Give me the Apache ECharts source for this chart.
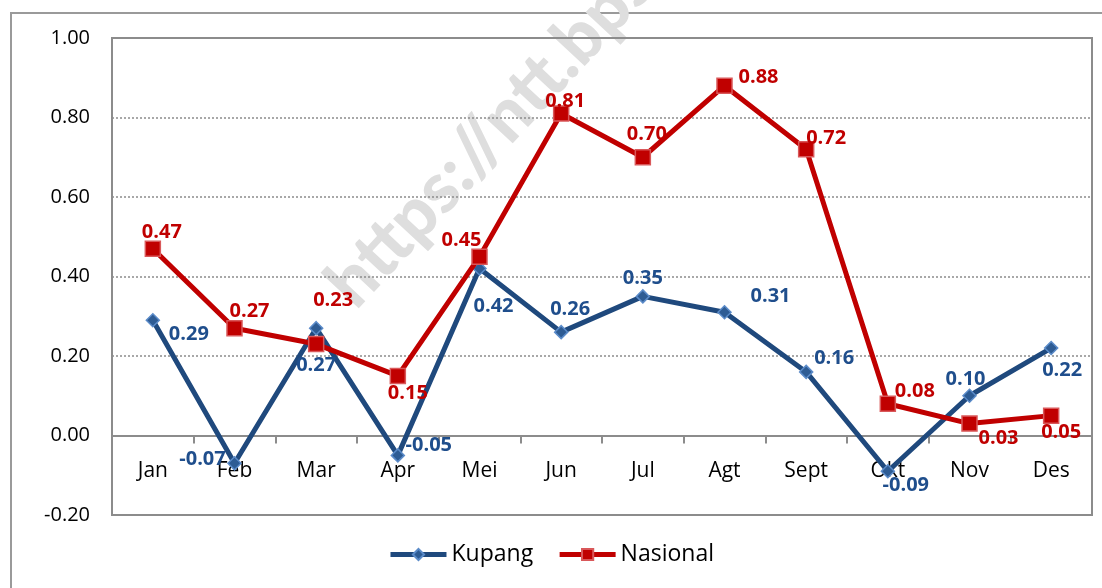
<!DOCTYPE html>
<html>
<head>
<meta charset="utf-8">
<script src="https://cdn.jsdelivr.net/npm/echarts@6/dist/echarts.min.js"></script>
<style>
  html, body { margin: 0; padding: 0; background: #fff; }
  #chart { width: 1102px; height: 588px; }
</style>
</head>
<body>
<div id="chart"></div>
<script>
// data
const months = ['Jan', 'Feb', 'Mar', 'Apr', 'Mei', 'Jun', 'Jul', 'Agt', 'Sept', 'Okt', 'Nov', 'Des'];
const kupang = [0.29, -0.07, 0.27, -0.05, 0.42, 0.26, 0.35, 0.31, 0.16, -0.09, 0.10, 0.22];
const nasional = [0.47, 0.27, 0.23, 0.15, 0.45, 0.81, 0.70, 0.88, 0.72, 0.08, 0.03, 0.05];

// label offsets (px) from each point
const kupangLabelOffset = [[36, 14], [-32, -4], [0, 37], [31, -10], [14, 38], [9, -23], [0, -18], [46, -16], [28, -14], [18, 14], [-4, -16], [11, 22]];
const nasionalLabelOffset = [[9, -16], [15, -17], [17, -44], [10, 17], [-18, -16], [4, -12], [4, -23], [34, -8], [20, -11], [27, -12], [29, 15], [10, 17]];

const FONT = '"Open Sans", Lato, sans-serif';
const TOP = 38, BOTTOM = 73, H = 588;
const Y_MIN = -0.2, Y_MAX = 1;

function withLabels(values, offsets) {
  return values.map((v, i) => ({
    value: v,
    label: { offset: offsets[i] }
  }));
}

// x axis sits on the zero line; shift it up from the grid bottom
const plotH = H - TOP - BOTTOM;
const zeroShift = plotH * (0 - Y_MIN) / (Y_MAX - Y_MIN);

const chart = echarts.init(document.getElementById('chart'));

chart.setOption({
  animation: false,
  backgroundColor: '#fff',
  textStyle: { fontFamily: FONT },
  grid: {
    left: 112, right: 10, top: TOP, bottom: BOTTOM,
    show: true, borderColor: '#8c8c8c', borderWidth: 2
  },
  legend: {
    bottom: 17,
    left: 'center',
    itemWidth: 56,
    itemHeight: 14,
    itemGap: 24,
    lineStyle: { width: 5 },
    textStyle: { fontSize: 23, color: '#000', fontFamily: FONT },
    data: ['Kupang', 'Nasional']
  },
  graphic: [
    {
      type: 'rect',
      silent: true,
      z: -10,
      shape: { x: 11, y: 13, width: 1200, height: 700 },
      style: { fill: 'none', stroke: '#9a9a9a', lineWidth: 2 }
    },
    {
      type: 'text',
      silent: true,
      z: -5,
      x: 314,
      y: 272,
      rotation: 47 * Math.PI / 180,
      style: {
        text: 'https://ntt.bps.go.id',
        font: '900 70px Lato, sans-serif',
        fill: '#dedede'
      }
    }
  ],
  xAxis: {
    type: 'category',
    data: months,
    offset: -zeroShift,
    axisLine: { onZero: false, lineStyle: { color: '#8c8c8c', width: 2 } },
    axisTick: { show: true, length: 8, lineStyle: { color: '#8c8c8c', width: 2 } },
    axisLabel: { color: '#000', fontSize: 21, margin: 25, fontFamily: FONT },
    splitLine: { show: false }
  },
  yAxis: {
    type: 'value',
    min: Y_MIN,
    max: Y_MAX,
    interval: 0.2,
    axisLine: { show: false },
    axisTick: { show: false },
    axisLabel: {
      color: '#000', fontSize: 20, margin: 22, fontFamily: FONT,
      formatter: v => v.toFixed(2)
    },
    splitLine: { lineStyle: { color: '#8c8c8c', type: [2, 2], width: 1.5 } }
  },
  series: [
    {
      name: 'Kupang',
      type: 'line',
      data: withLabels(kupang, kupangLabelOffset),
      symbol: 'diamond',
      symbolSize: 13,
      lineStyle: { color: '#1F497D', width: 5 },
      itemStyle: { color: '#2E5C94', borderColor: '#5B8BC9', borderWidth: 1.5 },
      label: {
        show: true,
        position: 'inside',
        color: '#1F4E8C',
        fontWeight: 'bold',
        fontSize: 20,
        fontFamily: FONT,
        formatter: p => p.value.toFixed(2)
      },
      z: 3
    },
    {
      name: 'Nasional',
      type: 'line',
      data: withLabels(nasional, nasionalLabelOffset),
      symbol: 'rect',
      symbolSize: 15,
      lineStyle: { color: '#C00000', width: 5 },
      itemStyle: { color: '#C00000', borderColor: '#D9585A', borderWidth: 1.5 },
      label: {
        show: true,
        position: 'inside',
        color: '#C00000',
        fontWeight: 'bold',
        fontSize: 20,
        fontFamily: FONT,
        formatter: p => p.value.toFixed(2)
      },
      z: 4
    }
  ]
});

window.addEventListener('resize', () => chart.resize());
</script>
</body>
</html>
